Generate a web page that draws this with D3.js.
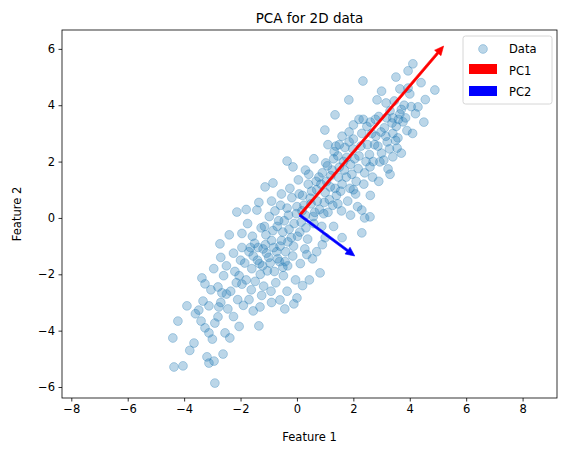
<!DOCTYPE html>
<html><head><meta charset="utf-8">
<script src="https://cdn.jsdelivr.net/npm/d3@7"></script>
<style>body{margin:0;background:#fff}text{font-family:"DejaVu Sans",sans-serif}</style>
</head><body><svg id="c" width="566" height="453"></svg>
<script>
const xTicks=[-8,-6,-4,-2,0,2,4,6,8];
const yTicks=[-6,-4,-2,0,2,4,6];
const legendLabels=["Data","PC1","PC2"];
const pc1=[[0.1,0.1],[5.2,6.1]];
const pc2=[[0.1,0.1],[2.05,-1.35]];
const points=[
[-4.36,-5.29],[-4.04,-5.25],[-2.91,-5.86],[-4.4,-4.26],[-3.65,-4.44],[-3.19,-4.93],[-3.12,-5.15],[-2.94,-5.08],[-2.62,-4.83],[-2.55,-4.08],[-2.38,-4.26],[-1.35,-3.83],[-4.22,-3.66],[-3.9,-3.12],[-3.4,-3.66],[-3.26,-3.9],[-3.12,-4.08],[-3.48,-3.27],[-3.33,-2.95],[-3.12,-3.12],[-2.77,-3.16],[-2.8,-3.51],[-2.91,-3.73],[-2.45,-3.23],[-3.37,-2.13],[-3.26,-2.34],[-2.8,-2.45],[-2.66,-2.66],[-1.31,-3.16],[-0.6,-2.91],[-0.43,-3.23],[-0.11,-3.05],[0,-2.84],[-2.13,0.21],[-2.73,-0.92],
[4.11,5.47],[3.94,5.22],[3.51,5.0],[2.34,4.86],[4.89,4.54],[3.65,4.58],[3.94,4.61],[1.84,4.19],[4.29,3.94],[3.16,4.08],[3.65,3.69],[3.76,3.41],[3.37,3.37],[1.35,3.66],[0.99,3.12],[3.58,2.84],[3.55,2.48],[3.4,2.17],[3.23,1.74],[2.94,1.99],[2.59,1.81],[-0.35,2.02],[-0.14,1.81],[-0.85,1.24],[-1.13,1.1],[2.59,0.04],[2.3,-0.53],[2.3,0.28],[0.82,-1.95],[2.4,0.0],[2.84,4.19],
[-2.2,-1.9],[-2.0,-1.5],[-1.8,-2.2],[-1.7,-1.2],[-1.6,-1.8],[-1.5,-0.9],[-1.4,-1.5],[-1.3,-2.0],[-1.2,-1.1],[-1.1,-0.6],[-1.0,-1.4],[-0.9,-0.8],[-0.8,-1.9],[-0.7,-0.3],[-0.6,-1.0],[-0.5,-0.5],[-0.4,-1.2],[-0.3,0.1],[-0.2,-0.7],[-0.1,-0.2],[0.0,0.4],[0.1,-0.5],[0.2,0.8],[0.3,0.1],[0.4,1.2],[0.5,0.5],[0.6,-0.2],[0.7,1.0],[0.8,0.3],[0.9,1.6],[1.0,0.9],[1.1,0.2],[1.2,1.5],[1.3,2.1],[1.4,0.8],[1.5,1.8],[1.6,1.2],[1.7,2.5],[1.8,0.6],[1.9,1.9],[2.0,2.8],[2.1,1.3],[2.2,2.2],[2.3,3.0],[2.4,1.6],[2.5,2.6],[2.6,3.4],[2.7,2.0],[2.8,2.9],[2.9,3.6],[3.0,2.3],[3.1,3.2],[3.2,2.7],[3.3,3.8],[3.4,3.0],[3.6,3.5],[3.8,4.0],[3.9,3.1],[4.0,4.4],[4.2,3.7],
[-2.35,-2.6],[-2.1,-2.9],[-1.95,-2.35],[-2.5,-1.7],[-2.25,-1.25],[-1.85,-1.6],[-1.62,-2.55],[-1.48,-2.25],[-1.33,-1.62],[-1.18,-2.42],[-1.05,-1.88],[-0.92,-2.6],[-0.75,-2.3],[-0.62,-1.55],[-0.48,-2.05],[-0.33,-1.7],[-0.15,-1.35],[-0.05,-2.2],[0.12,-1.62],[0.28,-1.1],[0.44,-2.2],[0.55,-1.45],[-1.95,-0.55],[-1.75,-0.2],[-1.58,-0.65],[-1.42,0.28],[-1.27,-0.35],[-1.12,-0.95],[-0.98,0.05],[-0.85,-0.45],[-0.72,-1.2],[-0.58,0.45],[-0.45,-0.1],[-0.32,-0.85],[-0.18,0.72],[-0.02,0.15],[0.15,-0.15],[0.25,0.45],[0.38,-0.75],[0.52,0.95],[0.63,0.2],[0.78,1.45],[0.88,-0.3],[0.97,0.55],[1.08,1.85],[1.18,1.1],[1.27,0.45],[1.38,2.55],[1.47,1.45],[1.58,0.25],[1.68,1.7],[1.77,2.15],[1.88,1.05],[1.98,2.45],[2.08,0.85],[2.17,1.75],[2.27,2.55],[2.37,1.2],[2.48,3.25],[2.57,2.25],[2.68,1.45],[2.78,3.5],[2.87,2.55],[2.98,3.05],[3.08,2.05],[3.18,3.55],[3.28,2.45],[3.45,4.15],[3.52,3.25],[3.7,3.85],[3.85,3.55],[4.05,3.95],[4.4,4.8],[4.55,4.2],[3.0,4.5],[2.2,3.5],[1.6,2.9],[1.1,2.6],[0.6,2.1],[0.3,1.7],[0.05,1.35],[-0.25,1.05],[-0.55,0.85],[-0.9,0.6],[-1.35,0.55],[-1.8,0.3],[-2.4,-0.6],[-2.7,-1.4],[-2.95,-1.8],[-3.05,-2.55],[-2.6,-2.05],[-2.15,-2.3],[-1.7,-2.9],[-1.25,-2.75],[-0.9,-3.0],[-0.35,-2.6],[0.2,-2.4],[0.7,-1.2],[1.0,-0.7],[1.3,-0.3],[1.6,-0.7],[1.9,0.1],[2.15,0.4],[2.6,0.8],[2.9,1.3],[3.3,1.55],[3.7,2.3],[4.1,3.0],[4.5,3.4],
[-1.55,-1.35],[-1.38,-1.05],[-1.22,-1.7],[-1.08,-1.25],[-0.95,-1.6],[-0.82,-1.05],[-0.68,-1.45],[-0.55,-0.8],[-0.42,-1.55],[-0.28,-0.4],[-0.12,-1.0],[0.02,-0.65],[0.18,0.25],[0.32,-0.35],[0.47,0.7],[0.58,0.05],[0.72,0.6],[0.85,1.2],[0.95,0.15],[1.05,1.3],[1.15,0.65],[1.25,1.7],[1.35,1.05],[1.45,2.2],[1.55,0.95],[1.65,2.0],[1.75,1.45],[1.85,2.7],[1.95,1.55],[2.05,2.1],[-0.65,-0.1],[-0.35,0.35],[0.08,0.85],[0.42,1.55],[0.68,1.3],[1.02,1.95],[1.32,2.35],[-1.95,-1.05],[-2.05,-2.05],[-1.65,-1.05],[-1.15,-0.3],[-0.78,0.25],[-0.5,-1.75],[0.35,-1.3],[0.9,-0.95],[1.45,0.5],[2.0,1.0],[2.45,2.0],[2.75,2.6],[3.15,2.9],[3.5,2.75],[1.85,3.05],[1.5,2.6],[2.35,3.5],[2.65,3.0],[3.4,3.55],[2.0,3.3],[-2.5,-2.7],[-2.25,-3.5],[-1.9,-3.1],[-1.55,-3.3],[-3.6,-3.4],[-3.0,-4.3],[-2.05,-3.85],[-3.8,-4.7],[-2.7,-3.0]
];
const W=566,H=453,m={l:62,r:557,t:30,b:398};
const x=d3.scaleLinear().domain([-8.33,9.22]).range([m.l,m.r]);
const y=d3.scaleLinear().domain([-6.39,6.67]).range([m.b,m.t]);
const svg=d3.select("#c");
const g=svg.append("g");
g.selectAll("circle.p").data(points).join("circle").attr("cx",d=>x(d[0])).attr("cy",d=>y(d[1])).attr("r",4.4)
 .attr("fill","#1f77b4").attr("fill-opacity",0.3).attr("stroke","#1f77b4").attr("stroke-opacity",0.3).attr("stroke-width",1);
function arrow(p,color){
  const x0=x(p[0][0]),y0=y(p[0][1]),x1=x(p[1][0]),y1=y(p[1][1]);
  const dx=x1-x0,dy=y1-y0,L=Math.hypot(dx,dy),ux=dx/L,uy=dy/L,nx=-uy,ny=ux;
  const hw=1.2,hl=9,hh=4.2,bx=x1-ux*hl,by=y1-uy*hl;
  const pts=[[x0+nx*hw,y0+ny*hw],[bx+nx*hw,by+ny*hw],[bx+nx*hh,by+ny*hh],[x1,y1],[bx-nx*hh,by-ny*hh],[bx-nx*hw,by-ny*hw],[x0-nx*hw,y0-ny*hw]];
  g.append("polygon").attr("points",pts.map(q=>q.join(",")).join(" ")).attr("fill",color).attr("stroke",color).attr("stroke-width",0.6);
}
arrow(pc1,"red");arrow(pc2,"blue");
svg.append("rect").attr("x",m.l).attr("y",m.t).attr("width",m.r-m.l).attr("height",m.b-m.t).attr("fill","none").attr("stroke","#000").attr("stroke-width",0.8);
const xa=svg.append("g").attr("transform",`translate(0,${m.b})`).call(d3.axisBottom(x).tickValues(xTicks).tickSize(3.5).tickPadding(3.5));
const ya=svg.append("g").attr("transform",`translate(${m.l},0)`).call(d3.axisLeft(y).tickValues(yTicks).tickSize(3.5).tickPadding(3.5));
[xa,ya].forEach(a=>{a.select(".domain").remove();a.selectAll("text").attr("font-size",11.5).attr("font-family","DejaVu Sans").attr("fill","#000");a.selectAll("line").attr("stroke","#000").attr("stroke-width",0.8);});
svg.append("text").attr("x",(m.l+m.r)/2).attr("y",23).attr("text-anchor","middle").attr("font-size",13.5).text("PCA for 2D data");
svg.append("text").attr("x",(m.l+m.r)/2).attr("y",441).attr("text-anchor","middle").attr("font-size",11.5).text("Feature 1");
svg.append("text").attr("transform",`translate(21,${(m.t+m.b)/2}) rotate(-90)`).attr("text-anchor","middle").attr("font-size",11.5).text("Feature 2");
const lg=svg.append("g").attr("transform","translate(463,36)");
lg.append("rect").attr("width",89).attr("height",68).attr("rx",2.5).attr("fill","#fff").attr("fill-opacity",0.8).attr("stroke","#ccc").attr("stroke-width",0.8);
lg.append("circle").attr("cx",20).attr("cy",13).attr("r",4.4).attr("fill","#1f77b4").attr("fill-opacity",0.3).attr("stroke","#1f77b4").attr("stroke-opacity",0.3);
lg.append("rect").attr("x",6).attr("y",28).attr("width",28).attr("height",10).attr("fill","red");
lg.append("rect").attr("x",6).attr("y",50).attr("width",28).attr("height",10).attr("fill","blue");
legendLabels.forEach((t,i)=>lg.append("text").attr("x",46).attr("y",17+i*21.5).attr("font-size",11.5).text(t));
</script></body></html>
